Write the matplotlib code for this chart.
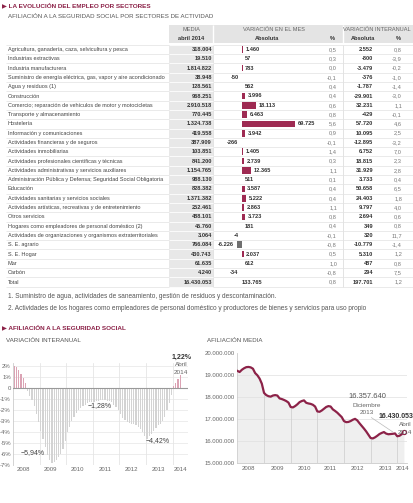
import numpy as np
import matplotlib
matplotlib.use("Agg")
import matplotlib.pyplot as plt
from matplotlib.patches import Rectangle

plt.rcParams['font.family'] = ['Liberation Sans', 'DejaVu Sans']

# ---- table data (abril 2014) ----
sectores = [
    "Agricultura, ganadería, caza, selvicultura y pesca",
    "Industrias extractivas",
    "Industria manufacturera",
    "Suministro de energía eléctrica, gas, vapor y aire acondicionado",
    "Agua y residuos (1)",
    "Construcción",
    "Comercio; reparación de vehículos de motor y motocicletas",
    "Transporte y almacenamiento",
    "Hostelería",
    "Información y comunicaciones",
    "Actividades financieras y de seguros",
    "Actividades inmobiliarias",
    "Actividades profesionales científicas y técnicas",
    "Actividades administrativas y servicios auxiliares",
    "Administración Pública y Defensa; Seguridad Social Obligatoria",
    "Educación",
    "Actividades sanitarias y servicios sociales",
    "Actividades artísticas, recreativas y de entretenimiento",
    "Otros servicios",
    "Hogares como empleadores de personal doméstico (2)",
    "Actividades de organizaciones y organismos extraterritoriales",
    "S. E. agrario",
    "S. E. Hogar",
    "Mar",
    "Carbón",
    "Total",
]
media = [318004, 19510, 1814822, 38948, 128561, 968251, 2910518, 770445, 1324738,
         419558, 387909, 103851, 841200, 1154765, 988130, 828382, 1371382, 252461,
         488101, 45760, 3064, 766084, 430743, 61635, 4240, 16430053]
mes_abs = [1460, 57, 783, -50, 562, 3996, 18113, 6463, 69725, 3942, -266, 1405, 2739,
           12365, 511, 3587, 5222, 2863, 3723, 181, -4, -6226, 2037, 612, -34, 133765]
mes_pct = [0.5, 0.3, 0.0, -0.1, 0.4, 0.4, 0.6, 0.8, 5.6, 0.9, -0.1, 1.4, 0.3, 1.1, 0.1,
           0.4, 0.4, 1.1, 0.8, 0.4, -0.1, -0.8, 0.5, 1.0, -0.8, 0.8]
inter_abs = [2552, -800, -3479, -376, -1787, -29901, 32231, -429, 57720, 10095, -12895,
             6752, 18815, 31929, 3733, 50658, 24403, 9797, 2694, 349, 320, -10779, 5310,
             487, 294, 197701]
inter_pct = [0.8, -3.9, -0.2, -1.0, -1.4, -3.0, 1.1, -0.1, 4.6, 2.5, -3.2, 7.0, 2.3, 2.8,
             0.4, 6.5, 1.8, 4.0, 0.6, 0.8, 11.7, -1.4, 1.2, 0.8, 7.5, 1.2]

notas = [
    "1. Suministro de agua, actividades de saneamiento, gestión de residuos y descontaminación.",
    "2. Actividades de los hogares como empleadores de personal doméstico y productores de bienes y servicios para uso propio",
]

# ---- monthly series, Jan 2008 - Apr 2014 ----
years = ["2008", "2009", "2010", "2011", "2012", "2013", "2014"]
var_interanual = [
    2.0, 1.9, 1.6, 1.3, 0.9, 0.5, -0.3, -0.7, -1.1, -1.6, -2.4, -3.1,
    -3.9, -4.6, -5.4, -6.1, -6.5, -6.8, -6.7, -6.5, -6.3, -6.0, -5.5, -4.8,
    -4.0, -3.5, -3.0, -2.6, -2.3, -2.0, -1.8, -1.6, -1.5, -1.4, -1.3, -1.3,
    -1.3, -1.2, -1.2, -1.1, -1.1, -1.1, -1.2, -1.2, -1.3, -1.5, -1.7, -2.0,
    -2.4, -2.7, -2.9, -3.1, -3.2, -3.3, -3.3, -3.4, -3.5, -3.7, -4.0, -4.4,
    -4.6, -4.4, -4.2, -3.9, -3.6, -3.4, -3.3, -3.0, -2.6, -2.0, -1.4, -0.6,
    0.2, 0.45, 0.8, 1.22,
]
afiliacion = [
    19.20, 19.15, 19.25, 19.32, 19.37, 19.38, 19.36, 19.30, 19.10, 19.00, 18.85, 18.62,
    18.20, 18.10, 18.05, 18.03, 18.08, 18.10, 18.08, 17.95, 17.92, 17.88, 17.83, 17.76,
    17.56, 17.54, 17.60, 17.68, 17.78, 17.83, 17.86, 17.75, 17.72, 17.70, 17.66, 17.58,
    17.36, 17.34, 17.40, 17.48, 17.56, 17.60, 17.58, 17.45, 17.38, 17.30, 17.20, 17.10,
    16.92, 16.87, 16.88, 16.92, 16.98, 17.02, 16.95, 16.82, 16.70, 16.58, 16.45, 16.30,
    16.15, 16.13, 16.18, 16.25, 16.33, 16.38, 16.42, 16.35, 16.32, 16.33, 16.34, 16.35764,
    16.23, 16.25, 16.32, 16.430053,
]
afiliacion = [v * 1e6 for v in afiliacion]

MAROON = "#8c2248"
BAR = "#9e2a52"
W, H = 414, 503


def fmt_int(v):
    s = f"{abs(v):,}".replace(",", ".")
    return ("-" if v < 0 else "") + s


def fmt_pct(v):
    return f"{v:.1f}".replace(".", ",")


def box(x0, y0, x1, y1):
    return [x0 / W, 1 - y1 / H, (x1 - x0) / W, (y1 - y0) / H]


fig = plt.figure(figsize=(4.14, 5.03), dpi=100)
bg = fig.add_axes([0, 0, 1, 1])
bg.set_xlim(0, W)
bg.set_ylim(H, 0)
bg.axis("off")
bg.set_zorder(10)
bg.patch.set_visible(False)

# titles
bg.text(2, 5, "▶ LA EVOLUCIÓN DEL EMPLEO POR SECTORES", fontsize=4.6, fontweight="bold",
        color=MAROON, va="center")
bg.text(8, 16, "AFILIACIÓN A LA SEGURIDAD SOCIAL POR SECTORES DE ACTIVIDAD", fontsize=4.4,
        color="#555", va="center")

# table geometry
row0, rh = 49.5, 9.3
nrow = len(sectores)
ys = [row0 + i * rh for i in range(nrow)]
top, bot = row0 - rh / 2, ys[-1] + rh / 2

bg.add_patch(Rectangle((169, 25), W - 169, 18, color="#e4e4e4", lw=0))
bg.add_patch(Rectangle((169, top), 44.5, bot - top, color="#e8e8e8", lw=0))
for x in (213.5, 343):
    bg.vlines(x, 25, 43, color="white", lw=1)
    bg.vlines(x, top, bot, color="#d8d8d8", lw=0.5)
for i in range(nrow + 1):
    y = top + i * rh
    bg.hlines(y, 6, W, color="#e2e2e2", lw=0.5)
    bg.hlines(y, 169, 213.5, color="white", lw=0.6)

hs = 4.1
bg.text(191, 29.5, "MEDIA", fontsize=hs, color="#666", ha="center", va="center")
bg.text(191, 38, "abril 2014", fontsize=hs, color="#333", ha="center", va="center", fontweight="bold")
bg.text(274, 29.5, "VARIACIÓN EN EL MES", fontsize=hs, color="#666", ha="center", va="center")
bg.text(267, 38, "Absoluta", fontsize=hs, color="#333", ha="center", va="center", fontweight="bold")
bg.text(332, 38, "%", fontsize=hs, color="#333", ha="center", va="center", fontweight="bold")
bg.text(377, 29.5, "VARIACIÓN INTERANUAL", fontsize=hs, color="#666", ha="center", va="center")
bg.text(363, 38, "Absoluta", fontsize=hs, color="#333", ha="center", va="center", fontweight="bold")
bg.text(398, 38, "%", fontsize=hs, color="#333", ha="center", va="center", fontweight="bold")

fs = 4.1
for i, y in enumerate(ys):
    bg.text(8, y, sectores[i], fontsize=3.95, color="#444", va="center")
    bg.text(212, y, fmt_int(media[i]), fontsize=fs, color="#333", va="center", ha="right",
            fontweight="bold")
    bg.text(337, y, fmt_pct(mes_pct[i]), fontsize=fs, color="#777", va="center", ha="right")
    bg.text(373, y, fmt_int(inter_abs[i]), fontsize=fs, color="#333", va="center", ha="right",
            fontweight="bold")
    bg.text(402, y, fmt_pct(inter_pct[i]), fontsize=fs, color="#777", va="center", ha="right")

# bars of monthly absolute variation
zero_px, scale = 242.0, 53.0 / 69725
bx0, bx1 = 215.0, 325.0
bar_ax = fig.add_axes(box(bx0, top, bx1, bot))
bar_ax.set_xlim(-(zero_px - bx0) / scale, (bx1 - zero_px) / scale)
bar_ax.set_ylim(nrow - 0.5, -0.5)
bar_ax.axis("off")
bar_vals = mes_abs[:-1]
bar_ax.barh(range(len(bar_vals)), bar_vals, height=0.72,
            color=[BAR if v > 0 else "#6f6f6f" for v in bar_vals], lw=0)
for i, v in enumerate(mes_abs):
    if i == nrow - 1:
        bar_ax.text(0, i, fmt_int(v), fontsize=fs, color="#333", va="center", ha="left",
                    fontweight="bold")
    elif v >= 0:
        bar_ax.text(v + 2.5 / scale, i, fmt_int(v), fontsize=fs, color="#333", va="center",
                    ha="left", fontweight="bold")
    else:
        bar_ax.text(v - 3.5 / scale, i, fmt_int(v), fontsize=fs, color="#333", va="center",
                    ha="right", fontweight="bold")

# footnotes
bg.text(8, 297, notas[0], fontsize=4.7, color="#555", va="center")
bg.text(8, 308, notas[1], fontsize=4.7, color="#555", va="center")

# second section
bg.text(2, 327, "▶ AFILIACIÓN A LA SEGURIDAD SOCIAL", fontsize=4.6, fontweight="bold",
        color=MAROON, va="center")
bg.text(6, 340, "VARIACIÓN INTERANUAL", fontsize=4.5, color="#555", va="center")
bg.text(207, 340, "AFILIACIÓN MEDIA", fontsize=4.4, color="#555", va="center")

months = np.arange(len(var_interanual))

# ---- left chart: year-on-year variation ----
ax1 = fig.add_axes(box(13, 388 - 2.3 * 11, 188, 465))
ax1.set_xlim(-0.6, 78.5)
ax1.set_ylim(-7, 2.3)
ax1.bar(months, var_interanual, width=0.55,
        color=["#dba3b4" if v > 0 else "#d3d3d3" for v in var_interanual], lw=0, zorder=2)
ax1.set_yticks(range(-7, 3))
ax1.set_yticklabels([("0" if v == 0 else f"{v}%") for v in range(-7, 3)])
ax1.grid(axis="y", color="#e6e6e6", lw=0.5, zorder=0)
for k in range(1, 7):
    ax1.axvline(12 * k - 0.5, color="#e0e0e0", lw=0.5, zorder=0)
ax1.axhline(0, color="#999", lw=0.8, zorder=3)
ax1.set_xticks([4, 16.5, 28.5, 41, 53, 65, 75])
ax1.set_xticklabels(years)
ax1.tick_params(length=0, labelsize=4.3, colors="#666", pad=1.5)
for s in ("top", "right", "bottom"):
    ax1.spines[s].set_visible(False)
ax1.spines["left"].set_color("#cccccc")
ax1.spines["left"].set_linewidth(0.6)
ax1.text(8.4, -5.85, "−5,94%", fontsize=5, color="#444", ha="center", va="center")
ax1.text(38.6, -1.64, "−1,28%", fontsize=5, color="#444", ha="center", va="center")
ax1.text(64.7, -4.8, "−4,42%", fontsize=5, color="#444", ha="center", va="center")
ax1.text(75.5, 2.8, "1,22%", fontsize=5, color="#333", ha="center", va="center",
         fontweight="bold", clip_on=False)
ax1.text(75.5, 2.15, "Abril", fontsize=4.6, color="#666", ha="center", va="center")
ax1.text(75.5, 1.45, "2014", fontsize=4.6, color="#666", ha="center", va="center")

# ---- right chart: average affiliation ----
ax2 = fig.add_axes(box(237.4, 353.3, 407, 463.3))
ax2.set_xlim(0, 76.4)
ax2.set_ylim(15e6, 20e6)
ax2.patch.set_visible(False)
ax2.fill_between(months, afiliacion, 15e6, color="#efefef", lw=0, zorder=1)
for v in range(16, 20):
    ax2.axhline(v * 1e6, color="#e0e0e0", lw=0.5, zorder=1.5)
for k in range(1, 7):
    ax2.vlines(12 * k, 15e6, afiliacion[12 * k], color="#d2d2d2", lw=0.6, zorder=1.6)
ax2.plot(months, afiliacion, color=MAROON, lw=1.6, zorder=3)
ax2.plot(months[-1], afiliacion[-1], "o", ms=3, mfc="white", mec=MAROON, mew=0.8, zorder=4)
ax2.set_yticks([v * 1e6 for v in range(15, 21)])
ax2.set_yticklabels([f"{v * 1000000:,}".replace(",", ".") for v in range(15, 21)])
ax2.set_xticks([5, 18, 30, 42, 54, 66.5, 74.5])
ax2.set_xticklabels(years)
ax2.tick_params(length=0, labelsize=4.3, colors="#666", pad=2)
for s in ("top", "right"):
    ax2.spines[s].set_visible(False)
for s in ("left", "bottom"):
    ax2.spines[s].set_color("#cccccc")
    ax2.spines[s].set_linewidth(0.6)

bg.text(367, 397, "16.357.640", fontsize=5.4, color="#555", ha="center", va="center")
bg.text(367, 405.5, "Diciembre", fontsize=4.6, color="#666", ha="center", va="center")
bg.text(367, 413, "2013", fontsize=4.6, color="#666", ha="center", va="center")
ax2.annotate("", xy=(71, afiliacion[71]), xytext=(369, 416), textcoords=bg.transData,
             arrowprops=dict(arrowstyle="-", color="#bbbbbb", lw=0.5))
bg.text(413, 417, "16.430.053", fontsize=5, color="#333", ha="right", va="center",
        fontweight="bold")
bg.text(412, 425, "Abril", fontsize=4.6, color="#666", ha="right", va="center")
bg.text(412, 432, "2014", fontsize=4.6, color="#666", ha="right", va="center")

fig.savefig("out.png", dpi=100)
